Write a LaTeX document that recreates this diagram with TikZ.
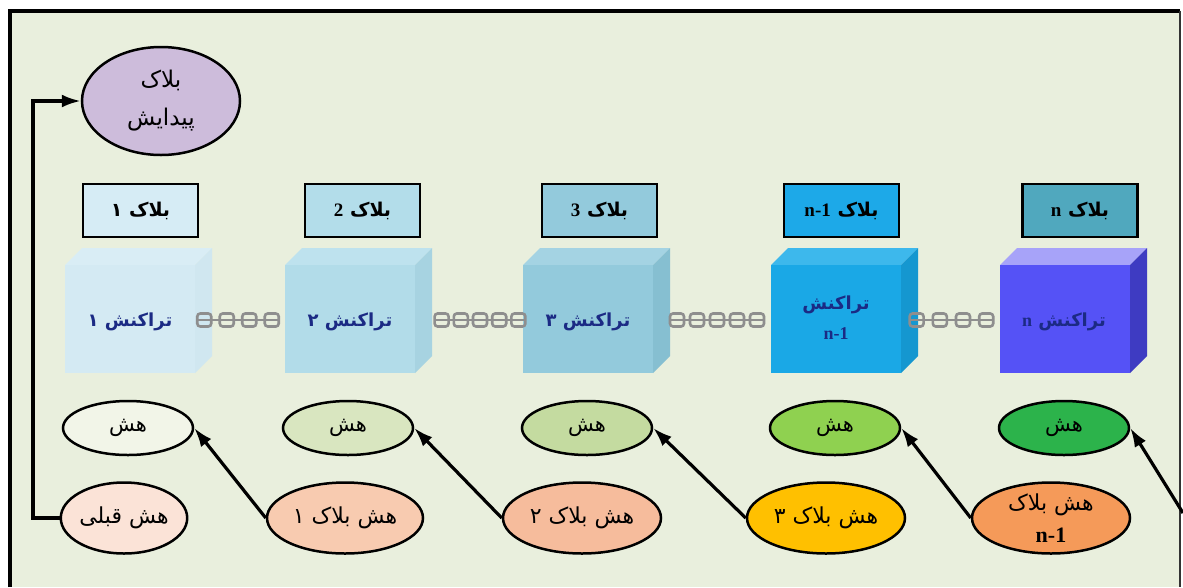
\documentclass[tikz,border=0pt]{standalone}
\usepackage{fontspec}
\setmainfont{Liberation Serif}
\newfontfamily\fa[Script=Arabic]{DejaVu Sans}
\TeXXeTstate=1
\usetikzlibrary{shapes.geometric,arrows.meta}
\newcommand\RL[1]{\beginR #1\endR}
\newcommand\LT[1]{{\rmfamily\bfseries\beginL #1\endL}}
\definecolor{bgc}{HTML}{E9EFDD}
\definecolor{navy}{HTML}{1B2A84}
\definecolor{chaing}{HTML}{8E8E8E}
% cube colours
\definecolor{c1f}{HTML}{D4EAF3}\definecolor{c1t}{HTML}{D9EDF5}\definecolor{c1s}{HTML}{D0E7F0}
\definecolor{c2f}{HTML}{B2DCE9}\definecolor{c2t}{HTML}{BEE2EE}\definecolor{c2s}{HTML}{A7D3E1}
\definecolor{c3f}{HTML}{93CADC}\definecolor{c3t}{HTML}{A4D3E3}\definecolor{c3s}{HTML}{86BFD1}
\definecolor{c4f}{HTML}{1AA8E6}\definecolor{c4t}{HTML}{3DB8EC}\definecolor{c4s}{HTML}{1597D0}
\definecolor{c5f}{HTML}{5552F6}\definecolor{c5t}{HTML}{A7A3F9}\definecolor{c5s}{HTML}{3E3BC2}
% boxes
\definecolor{b1}{HTML}{D6ECF5}\definecolor{b2}{HTML}{B3DDEA}\definecolor{b3}{HTML}{93CADC}
\definecolor{b4}{HTML}{1DA9E8}\definecolor{b5}{HTML}{50A8BE}
% hash ellipses
\definecolor{h1}{HTML}{F2F5E8}\definecolor{h2}{HTML}{D9E6C0}\definecolor{h3}{HTML}{C4DBA0}
\definecolor{h4}{HTML}{8FD150}\definecolor{h5}{HTML}{2CB34B}
\definecolor{p0}{HTML}{FBE3D7}\definecolor{p1}{HTML}{F8CBB0}\definecolor{p2}{HTML}{F6BC9C}
\definecolor{p3}{HTML}{FFC000}\definecolor{p4}{HTML}{F59A59}
\definecolor{gen}{HTML}{CDBCDB}
\tikzset{
  lbl/.style={draw=black,line width=2.6pt,minimum width=115pt,minimum height=53pt,inner sep=0pt,
    font=\fa\bfseries\fontsize{19}{22}\selectfont},
  cubetxt/.style={text=navy,align=center,font=\fa\bfseries\fontsize{18}{30}\selectfont},
  hashe/.style={ellipse,draw=black,line width=2.5pt,minimum width=130pt,minimum height=54pt,inner sep=0pt,
    font=\fa\fontsize{21}{24}\selectfont},
  prev/.style={ellipse,draw=black,line width=2.5pt,minimum height=71pt,inner sep=0pt,align=center,
    font=\fa\fontsize{22}{32}\selectfont},
  arr/.style={line width=3.2pt,-{Latex[length=19pt,width=13pt]}},
  link/.style={draw=chaing,line width=2.6pt,rounded corners=3pt}
}
\newcommand\mycube[5]{% x, front, top, side, name
  \fill[#3] (#1,265) -- (#1+17,248) -- (#1+147,248) -- (#1+130,265) -- cycle;
  \fill[#4] (#1+130,265) -- (#1+147,248) -- (#1+147,356) -- (#1+130,373) -- cycle;
  \fill[#2] (#1,265) rectangle (#1+130,373);
  \coordinate (#5) at (#1+65,319);
}
\newcommand\mychain[4]{% name a, name b, count, spacing
  \draw[chaing,line width=2.6pt] ([xshift=4pt]#1) -- ([xshift=-4pt]#2);
  \foreach \k in {1,...,#3}{
    \draw[link] ([xshift={(\k-0.5)*#4}]#1) ++(-7,-6.5) rectangle ++(14,13);
  }
}
\begin{document}
\begin{tikzpicture}[x=1pt,y=-1pt]
\useasboundingbox (0,0) rectangle (1183,587);
\fill[bgc] (10,10) rectangle (1180,587);
\draw[line width=4pt] (10,587) -- (10,10.5) -- (1180,10.5);
\draw[line width=1.8pt,black!80] (1180,10.5) -- (1180,587);

% cubes
\mycube{65}{c1f}{c1t}{c1s}{k1}
\mycube{285}{c2f}{c2t}{c2s}{k2}
\mycube{523}{c3f}{c3t}{c3s}{k3}
\mycube{771}{c4f}{c4t}{c4s}{k4}
\mycube{1000}{c5f}{c5t}{c5s}{k5}

% chain anchor coordinates
\coordinate (ch1a) at (193,320); \coordinate (ch1b) at (283,320);
\coordinate (ch2a) at (432,320); \coordinate (ch2b) at (528,320);
\coordinate (ch3a) at (667,320); \coordinate (ch3b) at (767,320);
\coordinate (ch4a) at (905,320); \coordinate (ch4b) at (998,320);
\mychain{ch1a}{ch1b}{4}{22.5}
\mychain{ch2a}{ch2b}{5}{19.2}
\mychain{ch3a}{ch3b}{5}{20}
\mychain{ch4a}{ch4b}{4}{23.2}

% cube texts
\node[cubetxt] (t1) at (130,322) {\RL{تراکنش ۱}};
\node[cubetxt] (t2) at (350,322) {\RL{تراکنش ۲}};
\node[cubetxt] (t3) at (588,322) {\RL{تراکنش ۳}};
\node[cubetxt] (t4) at (836,318) {\RL{تراکنش}\\\LT{n-1}};
\node[cubetxt] (t5) at (1064,322) {\RL{تراکنش \LT{n}}};

% block label boxes
\node[lbl,fill=b1] (B1) at (140.5,210.5) {\RL{بلاک ۱}};
\node[lbl,fill=b2] (B2) at (362.5,210.5) {\RL{بلاک \LT{2}}};
\node[lbl,fill=b3] (B3) at (599.5,210.5) {\RL{بلاک \LT{3}}};
\node[lbl,fill=b4] (B4) at (841.5,210.5) {\RL{بلاک \LT{n-1}}};
\node[lbl,fill=b5] (B5) at (1080,210.5) {\RL{بلاک \LT{n}}};

% genesis
\node[ellipse,draw=black,line width=2.5pt,fill=gen,minimum width=158pt,minimum height=108pt,inner sep=0pt,
  align=center,font=\fa\fontsize{23}{38}\selectfont] (G) at (161,101) {\RL{بلاک}\\\RL{پیدایش}};

% hash ellipses
\node[hashe,fill=h1] (H1) at (128,428) {\RL{هش}};
\node[hashe,fill=h2] (H2) at (348,428) {\RL{هش}};
\node[hashe,fill=h3] (H3) at (587,428) {\RL{هش}};
\node[hashe,fill=h4] (H4) at (835,428) {\RL{هش}};
\node[hashe,fill=h5] (H5) at (1064,428) {\RL{هش}};

% previous-hash ellipses
\node[prev,fill=p0,minimum width=122pt] (P0) at (124,518) {\RL{هش قبلی}};
\node[prev,fill=p1,minimum width=156pt] (P1) at (345,518) {\RL{هش بلاک ۱}};
\node[prev,fill=p2,minimum width=158pt] (P2) at (582,518) {\RL{هش بلاک ۲}};
\node[prev,fill=p3,minimum width=158pt] (P3) at (826,518) {\RL{هش بلاک ۳}};
\node[prev,fill=p4,minimum width=158pt] (P4) at (1051,518) {\RL{هش بلاک}\\\LT{n-1}};
\coordinate (Pn) at (1183,513);

% arrows
\draw[arr] (P0.west) -- (33,518) -- (33,101) -- (G.west);
\draw[arr] (P1.west) -- (H1.east);
\draw[arr] (P2.west) -- (H2.east);
\draw[arr] (P3.west) -- (H3.east);
\draw[arr] (P4.west) -- (H4.east);
\draw[arr] (Pn) -- (H5.east);
\end{tikzpicture}
\end{document}
